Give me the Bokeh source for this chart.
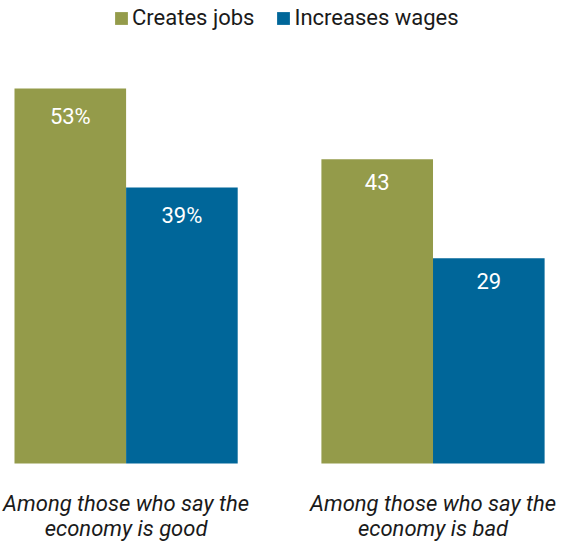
from bokeh.plotting import figure
from bokeh.models import ColumnDataSource, Range1d, Legend, LegendItem
from bokeh.core.properties import value
from bokeh.embed import file_html
from bokeh.resources import INLINE

# ---- data ----
groups = ["Among those who say the\neconomy is good", "Among those who say the\neconomy is bad"]
series = ["Creates jobs", "Increases wages"]
creates_jobs = [53, 43]
increases_wages = [39, 29]
labels_jobs = ["53%", "43"]
labels_wages = ["39%", "29"]
colors = ["#949B4A", "#006699"]

# ---- layout constants ----
GROUP_GAP = 0.75
FONT = "Roboto"

def xpos(gi, si):
    return gi * (len(series) + GROUP_GAP) + si + 0.5

p = figure(width=569, height=541, output_backend="svg", toolbar_location=None,
           x_range=Range1d(-0.1254, 4.973), y_range=Range1d(-11.02, 65.44),
           min_border=0, outline_line_color=None)
p.axis.visible = False
p.grid.visible = False
p.background_fill_color = "white"
p.border_fill_color = "white"

renderers = []
for si, (name, vals, labs) in enumerate(zip(series, [creates_jobs, increases_wages], [labels_jobs, labels_wages])):
    src = ColumnDataSource(dict(
        x=[xpos(gi, si) for gi in range(len(groups))],
        top=vals,
        lab=labs,
    ))
    r = p.vbar(x="x", top="top", bottom=0, width=1.0, source=src,
               fill_color=colors[si], line_color=None)
    renderers.append(r)
    p.text(x="x", y="top", text="lab", source=src, text_color="white",
           text_font=value(FONT), text_font_size="22px",
           text_align="center", text_baseline="top", y_offset=15)

cat_src = ColumnDataSource(dict(
    x=[(xpos(gi, 0) + xpos(gi, len(series) - 1)) / 2 for gi in range(len(groups))],
    y=[0] * len(groups),
    t=groups,
))
p.text(x="x", y="y", text="t", source=cat_src, text_color="#1a1a1a",
       text_font=value(FONT), text_font_style="italic", text_font_size="22px",
       text_align="center", text_baseline="top", y_offset=27, text_line_height=1.0)

legend = Legend(items=[LegendItem(label=s, renderers=[r]) for s, r in zip(series, renderers)],
                orientation="horizontal", location=(113, 511),
                label_text_font=FONT, label_text_font_size="22px", label_text_color="#1a1a1a",
                glyph_width=16, glyph_height=16, label_standoff=3, spacing=21,
                padding=0, margin=0, border_line_color=None, background_fill_alpha=0)
p.add_layout(legend, "center")

open("out.html", "w").write(file_html(p, INLINE))
